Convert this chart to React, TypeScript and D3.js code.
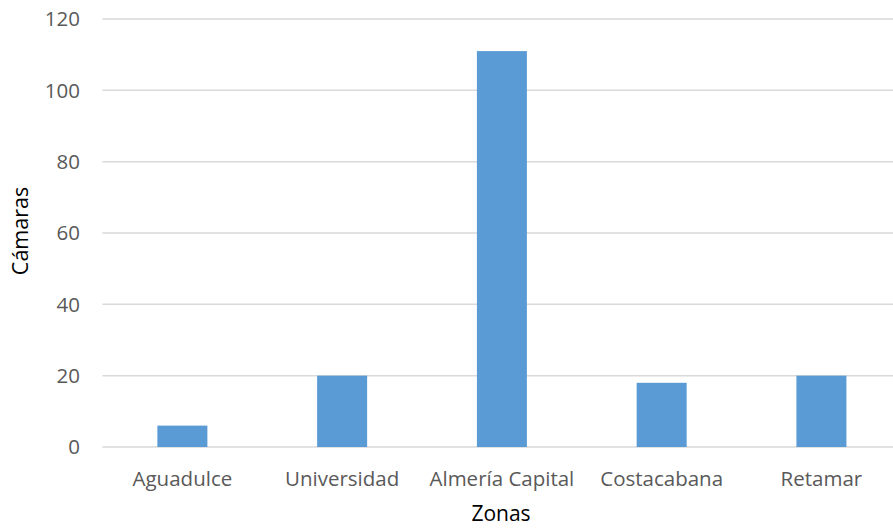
import React from "react";
import * as d3 from "d3";

const categories: string[] = ["Aguadulce", "Universidad", "Almería Capital", "Costacabana", "Retamar"];
const values: number[] = [6, 20, 111, 18, 20];
const yTicks: number[] = [0, 20, 40, 60, 80, 100, 120];
const xTitle = "Zonas";
const yTitle = "Cámaras";

const W = 893;
const H = 528;
const plotLeft = 102.5;
const plotRight = 901.3;
const plotTop = 19;
const plotBottom = 447;

export default function App() {
  const x = d3.scaleBand<string>().domain(categories).range([plotLeft, plotRight]).paddingInner(0).paddingOuter(0);
  const y = d3.scaleLinear().domain([0, 120]).range([plotBottom, plotTop]);
  const barW = x.step() * 0.313;
  const font = "'Open Sans', sans-serif";
  return (
    <svg width={W} height={H} style={{ position: "absolute", left: 0, top: 0, overflow: "hidden", background: "#fff" }}>
      {yTicks.map((t) => (
        <g key={t}>
          <line x1={plotLeft} x2={plotRight} y1={y(t)} y2={y(t)} stroke="#d9d9d9" strokeWidth={1.5} />
          <text x={80} y={y(t)} dy="0.35em" textAnchor="end" fontFamily={font} fontSize={20.5} fill="#595959">
            {t}
          </text>
        </g>
      ))}
      {categories.map((c, i) => {
        const cx = (x(c) as number) + x.bandwidth() / 2;
        return (
          <g key={c}>
            <rect x={cx - barW / 2} y={y(values[i])} width={barW} height={y(0) - y(values[i])} fill="#5b9bd5" />
            <text x={cx} y={479} dy="0.35em" textAnchor="middle" fontFamily={font} fontSize={20.5} fill="#595959">
              {c}
            </text>
          </g>
        );
      })}
      <text x={501} y={514} dy="0.35em" textAnchor="middle" fontFamily={font} fontSize={21} fill="#000">
        {xTitle}
      </text>
      <text transform={`translate(20,231) rotate(-90)`} dy="0.35em" textAnchor="middle" fontFamily={font} fontSize={21.5} fill="#000">
        {yTitle}
      </text>
    </svg>
  );
}
